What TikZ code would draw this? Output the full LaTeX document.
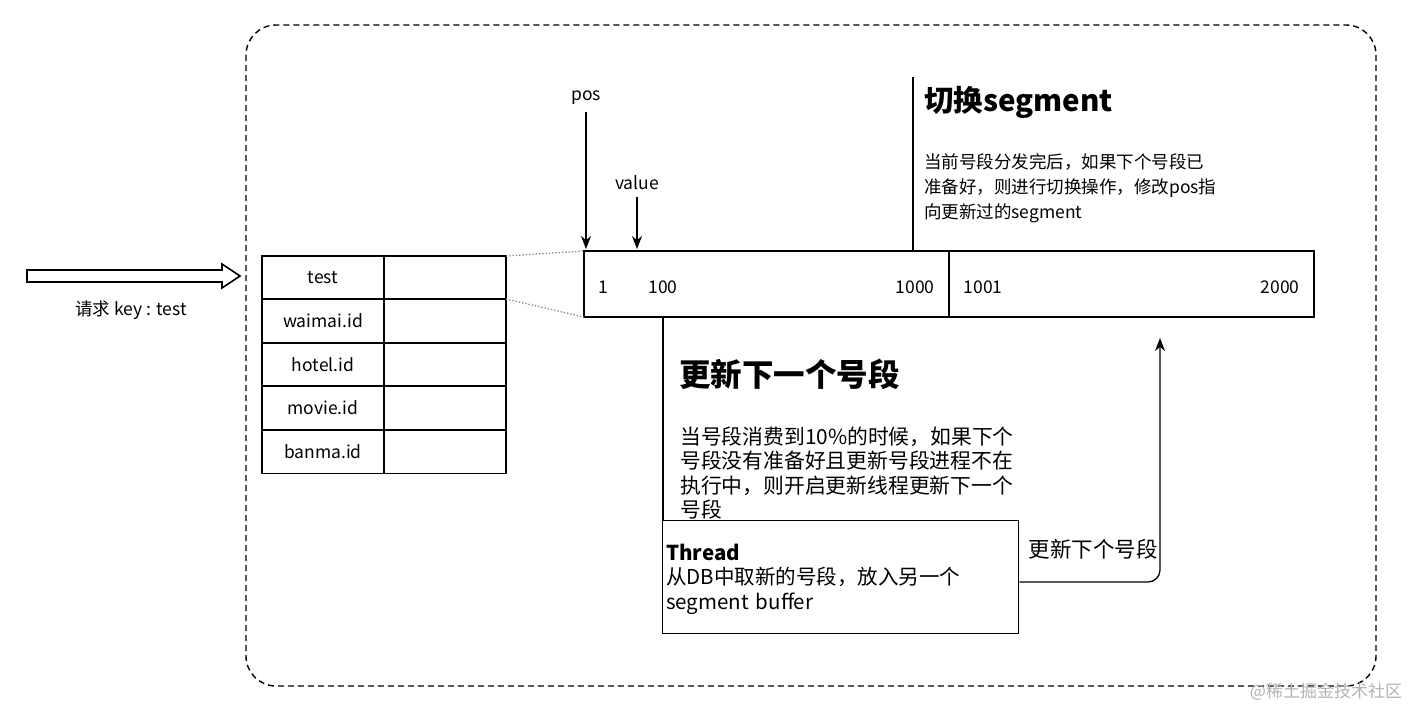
\documentclass[tikz,border=0pt]{standalone}
\usepackage{fontspec}
\setmainfont{Noto Sans CJK SC}
\usetikzlibrary{arrows.meta}
\begin{document}
\begin{tikzpicture}[x=1pt,y=-1pt,
  txt/.style={font=\fontsize{17.5}{20}\selectfont,inner sep=0pt},
  para/.style={font=\fontsize{17.5}{25}\selectfont,inner sep=0pt,align=left,anchor=west,text width=400pt},
  ttl/.style={font=\fontsize{29.5}{32}\selectfont\bfseries,inner sep=0pt,anchor=west},
  cell/.style={draw,line width=1.3pt},
  arr/.style={-{Stealth[length=13pt,width=10pt]},line width=1.3pt}]
\useasboundingbox (0,0) rectangle (1412,710);
\draw[dash pattern=on 6pt off 4pt,line width=1.4pt,rounded corners=30pt] (246,25) rectangle (1376,686);
% hollow arrow
\draw[line width=1.6pt] (27,270) -- (222,270) -- (222,264) -- (240,276) -- (222,288) -- (222,282) -- (27,282) -- cycle;
\node[txt] (req) at (131,310) {请求 key : test};
% table
\foreach \y/\t [count=\i] in {256/test,299/waimai.id,343/hotel.id,386/movie.id,430/banma.id}{
  \draw[cell] (262,\y) rectangle (384,\y+43.4);
  \draw[cell] (384,\y) rectangle (506,\y+43.4);
  \node[txt] (k\i) at (323,\y+22) {\t};
}
% segment
\draw[cell] (584,251) rectangle (949,317);
\draw[cell] (949,251) rectangle (1314,317);
\draw[dotted,line width=1.3pt,gray] (506,256) -- (584,251);
\draw[dotted,line width=1.3pt,gray] (506,299) -- (584,317);
\node[txt] (n1) at (603,287) {1};
\node[txt] (n100) at (663,287) {100};
\node[txt] (n1000) at (915,287) {1000};
\node[txt] (n1001) at (983,287) {1001};
\node[txt] (n2000) at (1280,287) {2000};
\node[txt] (pos) at (586,98) {pos};
\node[txt] (val) at (637,183) {value};
\coordinate (posE) at (586,249);
\coordinate (valE) at (637,249);
\draw[arr] (586,112) -- (posE);
\draw[arr] (637,197) -- (valE);
% switch
\draw[line width=1.3pt] (913,77) -- (913,251);
\node[ttl] (t1) at (924,102) {切换segment};
\node[para] (p1) at (924,188) {当前号段分发完后，如果下个号段已\\准备好，则进行切换操作，修改pos指\\向更新过的segment};
% update
\draw[line width=1.3pt] (663,317) -- (663,520);
\node[ttl,font=\fontsize{31.5}{34}\selectfont\bfseries] (t2) at (679,374) {更新下一个号段};
\node[para,font=\fontsize{20.8}{24.5}\selectfont] (p2) at (680,473) {当号段消费到10\%的时候，如果下个\\号段没有准备好且更新号段进程不在\\执行中，则开启更新线程更新下一个\\号段};
% thread
\node[draw,line width=1.3pt,minimum width=356pt,minimum height=113pt,anchor=north west,inner sep=0pt] (th) at (662,520) {};
\node[para,font=\fontsize{20.5}{24.5}\selectfont] (tht) at (666,579) {\textbf{Thread}\\从DB中取新的号段，放入另一个\\segment buffer};
\coordinate (tgt) at (1160,338);
\draw[arr,rounded corners=12pt] (th.east |- 0,582) -- (1160,582) -- (tgt);
\node[txt,font=\fontsize{21.5}{24}\selectfont] (lbl) at (1093,549) {更新下个号段};
\node[txt,gray!60,font=\fontsize{17}{20}\selectfont] (wm) at (1326,692) {@稀土掘金技术社区};
\end{tikzpicture}
\end{document}
